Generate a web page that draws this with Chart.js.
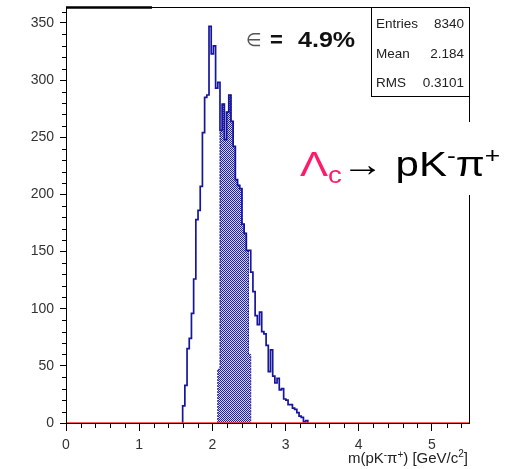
<!DOCTYPE html>
<html>
<head>
<meta charset="utf-8">
<script src="https://cdn.jsdelivr.net/npm/chart.js@4.4.1/dist/chart.umd.min.js"></script>
<style>
html, body { margin: 0; padding: 0; background: #fff; }
</style>
</head>
<body>
<canvas id="c" width="515" height="469"></canvas>
<script>
// invariant mass histogram, bins of fixed width starting at binStart
const binStart = 1.594
const binWidth = 0.03
const counts = [15, 33, 65, 74, 96, 126, 178, 186, 207, 254,
    285, 287, 347, 323, 330, 293, 298, 256, 279, 248,
    272, 287, 264, 242, 213, 208, 205, 174, 166, 151,
    151, 132, 115, 94, 86, 97, 80, 78, 68, 45,
    64, 41, 35, 39, 29, 30, 21, 20, 16, 16,
    13, 12, 9, 6, 5, 1, 2]
// selected window (hatched), starts at bin selFirst
const selFirst = 16
const selCounts = [47, 256, 279, 248, 272, 287, 264, 242, 213, 208, 205, 174, 166, 151, 60]

const xMax = 5.52
const yMax = 364
const xTicks = [0, 1, 2, 3, 4, 5]
const yTicks = [0, 50, 100, 150, 200, 250, 300, 350]
const stats = [['Entries', '8340'], ['Mean', '2.184'], ['RMS', '0.3101']]
const effText = '4.9%'

const FONT = "'Liberation Sans', Arial, sans-serif"
const LINE = '#16169c'

function histPoints(first, values) {
    const pts = [{x: binStart + first * binWidth, y: 0}]
    values.forEach((v, i) => pts.push({x: binStart + (first + i) * binWidth, y: v}))
    pts.push({x: binStart + (first + values.length) * binWidth, y: 0})
    return pts
}

// dotted fill: blue/white checker
function dotPattern(ctx) {
    const pc = document.createElement('canvas')
    pc.width = 2
    pc.height = 2
    const p = pc.getContext('2d')
    p.fillStyle = '#d4d4f2'
    p.fillRect(0, 0, 2, 2)
    p.fillStyle = '#2222a6'
    p.fillRect(0, 0, 1, 1)
    p.fillRect(1, 1, 1, 1)
    return ctx.createPattern(pc, 'repeat')
}

// draws a run of [text, color, size, dy] pieces starting at x
function drawPieces(ctx, pieces, x, y) {
    pieces.forEach(([t, color, size, dy]) => {
        ctx.font = `${size}px ${FONT}`
        ctx.fillStyle = color
        ctx.fillText(t, x, y + dy)
        x += ctx.measureText(t).width
    })
    return x
}
function piecesWidth(ctx, pieces) {
    return pieces.reduce((w, [t, color, size]) => {
        ctx.font = `${size}px ${FONT}`
        return w + ctx.measureText(t).width
    }, 0)
}

const decorations = {
    id: 'decorations',
    afterDraw(chart) {
        const {ctx, chartArea: a, scales: {x, y}} = chart
        ctx.save()
        ctx.strokeStyle = '#000'
        ctx.lineWidth = 1
        // minor ticks
        ctx.beginPath()
        for (let k = 1; k * 0.2 < xMax; k++) {
            if (k % 5 === 0) continue
            const px = Math.round(x.getPixelForValue(k * 0.2)) + 0.5
            ctx.moveTo(px, a.bottom)
            ctx.lineTo(px, a.bottom + 5)
        }
        for (let v = 10; v < yMax; v += 10) {
            if (v % 50 === 0) continue
            const py = Math.round(y.getPixelForValue(v)) + 0.5
            ctx.moveTo(a.left, py)
            ctx.lineTo(a.left - 4, py)
        }
        ctx.stroke()

        // frame
        ctx.strokeRect(a.left + 0.5, a.top + 0.5, a.right - a.left - 1, a.bottom - a.top)
        ctx.lineWidth = 2.5
        ctx.beginPath()
        ctx.moveTo(a.left, a.top + 0.5)
        ctx.lineTo(152, a.top + 0.5)
        ctx.stroke()

        // stats box
        ctx.lineWidth = 1
        ctx.fillStyle = '#fff'
        ctx.fillRect(371.5, a.top + 0.5, a.right - 372, 89)
        ctx.strokeRect(371.5, a.top + 0.5, a.right - 372, 89)
        ctx.font = `13.5px ${FONT}`
        ctx.fillStyle = '#222'
        stats.forEach(([k, v], i) => {
            const by = 28 + i * 29.5
            ctx.textAlign = 'left'
            ctx.fillText(k, 376, by)
            ctx.textAlign = 'right'
            ctx.fillText(v, 464, by)
        })
        ctx.textAlign = 'left'

        // efficiency
        ctx.font = `18px 'DejaVu Sans', sans-serif`
        ctx.fillStyle = '#555'
        ctx.fillText('\u2208', 246, 46)
        ctx.font = `bold 22px ${FONT}`
        ctx.fillStyle = '#111'
        ctx.fillText('=', 270, 47)
        ctx.save()
        ctx.translate(298, 47)
        ctx.scale(1.14, 1)
        ctx.fillText(effText, 0, 0)
        ctx.restore()

        // decay label on a white patch over the frame
        ctx.fillStyle = '#fff'
        ctx.fillRect(298, 122, 217, 73)
        const pink = '#ff1a6a'
        ctx.save()
        ctx.translate(300, 176)
        ctx.scale(1.2, 1)
        drawPieces(ctx, [
            ['\u039b', pink, 35, 0],
            ['c', pink, 23, 7],
            ['\u2192 pK', '#000', 35, 0],
            ['-', '#000', 22, -13],
            ['\u03c0', '#000', 35, 0],
            ['+', '#000', 22, -13]
        ], 0, 0)
        ctx.restore()

        // x axis title
        const title = [
            ['m(pK', '#222', 15, 0],
            ['-', '#222', 10, -5],
            ['\u03c0', '#222', 15, 0],
            ['+', '#222', 10, -5],
            [') [GeV/c', '#222', 15, 0],
            ['2', '#222', 10, -6],
            [']', '#222', 15, 0]
        ]
        drawPieces(ctx, title, 468 - piecesWidth(ctx, title), 463)
        ctx.restore()
    }
}

const canvas = document.getElementById('c')
const pattern = dotPattern(canvas.getContext('2d'))

new Chart(canvas, {
    type: 'line',
    data: {
        datasets: [
            {
                label: 'zero',
                data: [{x: 0, y: 0}, {x: xMax, y: 0}],
                borderColor: '#ff2a2a',
                borderWidth: 1.5,
                pointRadius: 0,
                clip: false
            },
            {
                label: 'all',
                data: histPoints(0, counts),
                stepped: 'before',
                borderColor: LINE,
                borderWidth: 1.7,
                pointRadius: 0,
                fill: false,
                clip: false
            },
            {
                label: 'selected',
                data: histPoints(selFirst, selCounts),
                stepped: 'before',
                borderColor: LINE,
                borderWidth: 1,
                borderDash: [2, 1],
                backgroundColor: pattern,
                pointRadius: 0,
                fill: 'origin',
                clip: false
            }
        ]
    },
    options: {
        responsive: false,
        animation: false,
        events: [],
        layout: {padding: {top: 7, right: 45, left: 0, bottom: 0}},
        plugins: {legend: {display: false}, tooltip: {enabled: false}},
        scales: {
            x: {
                type: 'linear',
                min: 0,
                max: xMax,
                afterBuildTicks: s => { s.ticks = xTicks.map(v => ({value: v})) },
                afterFit: s => { s.height = 46; s.paddingLeft = 0; s.paddingRight = 0 },
                border: {display: false},
                grid: {drawOnChartArea: false, drawTicks: true, tickLength: 8, tickColor: '#000'},
                ticks: {color: '#333', font: {family: FONT, size: 14}, padding: 6, maxRotation: 0}
            },
            y: {
                type: 'linear',
                min: 0,
                max: yMax,
                afterBuildTicks: s => { s.ticks = yTicks.map(v => ({value: v})) },
                afterFit: s => { s.width = 66; s.paddingTop = 0; s.paddingBottom = 0 },
                border: {display: false},
                grid: {drawOnChartArea: false, drawTicks: true, tickLength: 6, tickColor: '#000'},
                ticks: {color: '#333', font: {family: FONT, size: 14}, padding: 6}
            }
        }
    },
    plugins: [decorations]
})
</script>
</body>
</html>
